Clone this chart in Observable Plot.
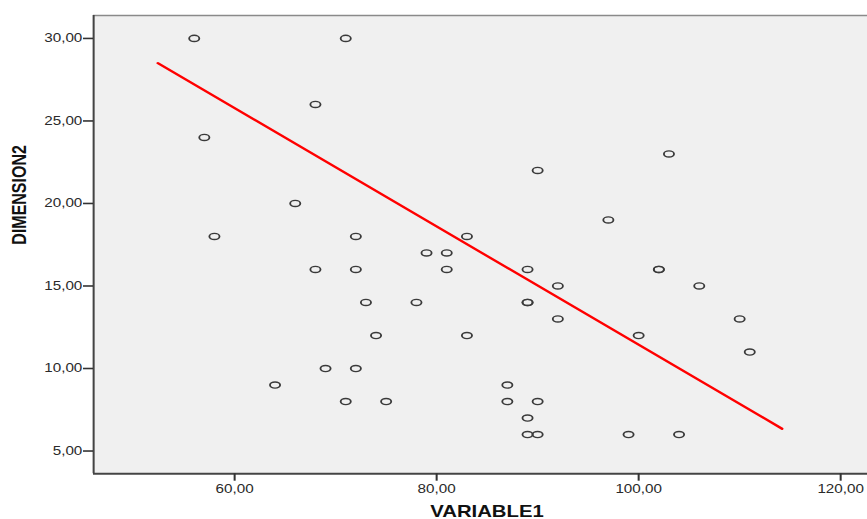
<!DOCTYPE html>
<html>
<head>
<meta charset="utf-8">
<script src="https://cdn.jsdelivr.net/npm/d3@7"></script>
<script src="https://cdn.jsdelivr.net/npm/@observablehq/plot@0.6"></script>
<style>
  html, body { margin: 0; padding: 0; background: #ffffff; }
  #chart { width: 867px; height: 519px; overflow: hidden; }
</style>
</head>
<body>
<div id="chart"></div>
<script>
// ---- data ----
const variable1 = [56, 71, 68, 57, 66, 58, 72, 68, 72, 73, 78, 74, 64, 69, 72, 71, 75,
                   79, 81, 81, 83, 83, 89, 89, 89, 92, 92, 90, 87, 87, 90, 89, 89, 90,
                   97, 102, 102, 103, 100, 106, 110, 111, 99, 104];
const dimension2 = [30, 30, 26, 24, 20, 18, 18, 16, 16, 14, 14, 12, 9, 10, 10, 8, 8,
                    17, 17, 16, 18, 12, 16, 14, 14, 15, 13, 22, 9, 8, 8, 7, 6, 6,
                    19, 16, 16, 23, 12, 15, 13, 11, 6, 6];
// fit line endpoints (as drawn in the reference)
const fitX = [52.4, 114.2];
const fitY = [28.5, 6.35];
// axes
const xTicks = [60, 80, 100, 120];
const yTicks = [5, 10, 15, 20, 25, 30];
const xDomain = [46.04, 122.67];
const yDomain = [3.62, 31.39];
const xTitle = "VARIABLE1";
const yTitle = "DIMENSION2";

const points = variable1.map((v, i) => ({x: v, y: dimension2[i]}));
const fit = fitX.map((v, i) => ({x: v, y: fitY[i]}));

// The reference is horizontally stretched; draw at a narrower width and stretch.
const OUT_W = 867, H = 519;
const W = 683;
const S = OUT_W / W;

const ellipse = {
  draw(ctx) {
    const rx = 4.0, ry = 3.1, k = 0.5523;
    ctx.moveTo(rx, 0);
    ctx.bezierCurveTo(rx, ry * k, rx * k, ry, 0, ry);
    ctx.bezierCurveTo(-rx * k, ry, -rx, ry * k, -rx, 0);
    ctx.bezierCurveTo(-rx, -ry * k, -rx * k, -ry, 0, -ry);
    ctx.bezierCurveTo(rx * k, -ry, rx, -ry * k, rx, 0);
    ctx.closePath();
  }
};

const fmt = d => d.toFixed(2).replace(".", ",");

const svg = Plot.plot({
  width: W,
  height: H,
  marginLeft: 93 / S,
  marginRight: 0,
  marginTop: 15,
  marginBottom: H - 473.3,
  style: {fontFamily: "'Liberation Sans', Arial, sans-serif", background: "#ffffff", color: "#222"},
  x: {domain: xDomain},
  y: {domain: yDomain},
  marks: [
    Plot.frame({fill: "#f0f0f0", stroke: null}),
    Plot.ruleY([yDomain[1]], {stroke: "#8a8a8a", strokeWidth: 1.5}),
    Plot.ruleX([xDomain[0]], {stroke: "#444", strokeWidth: 1.6}),
    Plot.ruleY([yDomain[0]], {stroke: "#444", strokeWidth: 2}),
    Plot.axisY({ticks: yTicks, tickFormat: fmt, tickSize: 7.9, tickPadding: 1, label: null,
                fontSize: 12, stroke: "#333", strokeWidth: 1.6, fill: "#2a2a2a"}),
    Plot.axisX({ticks: xTicks, tickFormat: fmt, tickSize: 7.4, tickPadding: 3.3, label: null,
                fontSize: 12, stroke: "#333", strokeWidth: 1.6, fill: "#2a2a2a"}),
    Plot.dot(points, {x: "x", y: "y", symbol: ellipse, r: 3, fill: "none", stroke: "#3a3a3a", strokeWidth: 1.45}),
    Plot.line(fit, {x: "x", y: "y", stroke: "#ff0000", strokeWidth: 2.2}),
    Plot.text([xTitle], {text: d => d, frameAnchor: "bottom", lineAnchor: "top", dy: 31.5, dx: 5,
                         fontSize: 16, fontWeight: "bold", fill: "#111"}),
    Plot.text([yTitle], {text: d => d, frameAnchor: "left", rotate: -90, dx: -58.4,
                         fontSize: 16, fontWeight: "bold", fill: "#111"})
  ]
});

svg.setAttribute("width", OUT_W);
svg.setAttribute("height", H);
svg.setAttribute("preserveAspectRatio", "none");
svg.style.width = OUT_W + "px";
svg.style.height = H + "px";
svg.style.maxWidth = "none";
document.getElementById("chart").appendChild(svg);
</script>
</body>
</html>
